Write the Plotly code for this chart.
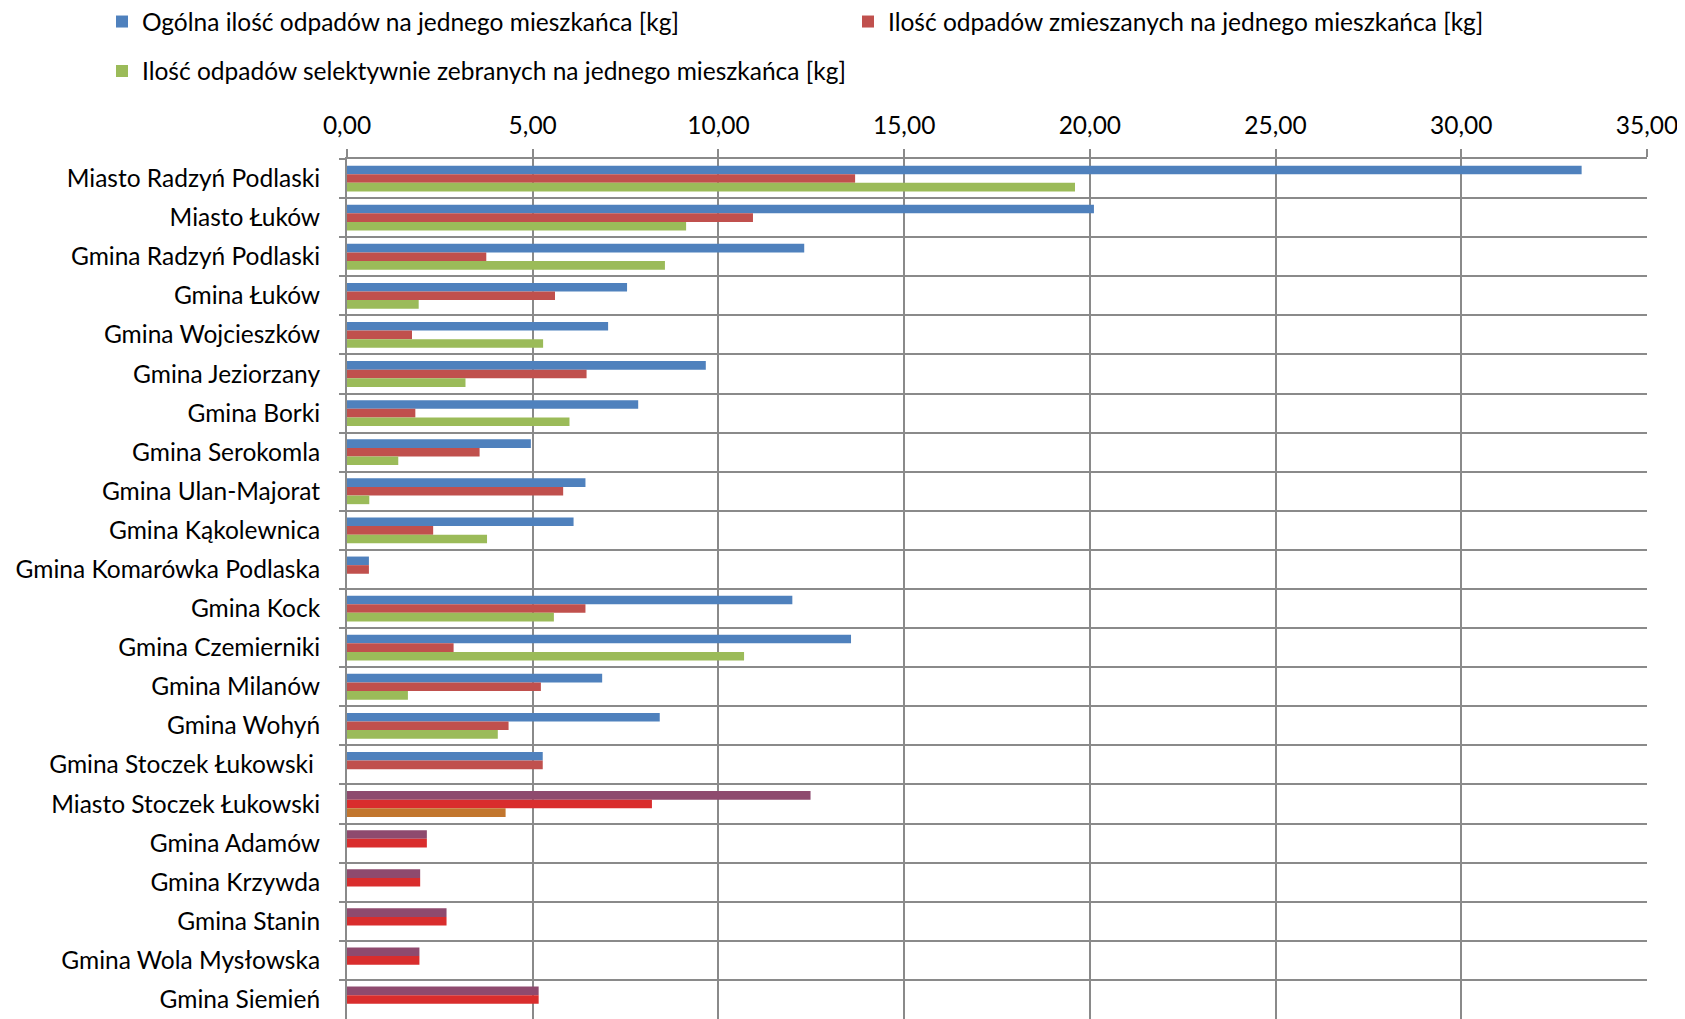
import plotly.graph_objects as go

categories = [
    "Miasto Radzyń Podlaski", "Miasto Łuków", "Gmina Radzyń Podlaski", "Gmina Łuków",
    "Gmina Wojcieszków", "Gmina Jeziorzany", "Gmina Borki", "Gmina Serokomla",
    "Gmina Ulan-Majorat", "Gmina Kąkolewnica", "Gmina Komarówka Podlaska", "Gmina Kock",
    "Gmina Czemierniki", "Gmina Milanów", "Gmina Wohyń", "Gmina Stoczek Łukowski\u00a0",
    "Miasto Stoczek Łukowski", "Gmina Adamów", "Gmina Krzywda", "Gmina Stanin",
    "Gmina Wola Mysłowska", "Gmina Siemień",
]
total_kg = [33.24, 20.11, 12.31, 7.54, 7.03, 9.66, 7.84, 4.95, 6.42, 6.10, 0.59, 11.99,
            13.57, 6.87, 8.42, 5.27, 12.48, 2.15, 1.97, 2.68, 1.95, 5.16]
mixed_kg = [13.68, 10.93, 3.75, 5.60, 1.75, 6.45, 1.84, 3.57, 5.82, 2.32, 0.59, 6.42,
            2.87, 5.22, 4.35, 5.27, 8.21, 2.15, 1.97, 2.68, 1.95, 5.16]
selective_kg = [19.60, 9.13, 8.56, 1.93, 5.28, 3.19, 5.99, 1.38, 0.60, 3.77, None, 5.57,
                10.69, 1.64, 4.06, None, 4.27, None, None, None, None, None]
series_names = [
    "Ogólna ilość odpadów na jednego mieszkańca [kg]",
    "Ilość odpadów zmieszanych na jednego mieszkańca [kg]",
    "Ilość odpadów selektywnie zebranych na jednego mieszkańca [kg]",
]
x_ticks = [0, 5, 10, 15, 20, 25, 30, 35]

base_colors = ["#4F81BD", "#C0504D", "#9BBB59"]
alt_colors = ["#8E4A6E", "#D92D2D", "#C2762E"]
special_from = categories.index("Miasto Stoczek Łukowski")

FONT = "Lato"
FS = 24.5
W, H = 1677, 1011  # page body adds an 8px margin
legend_ids = ["legend", "legend2", "legend3"]

fig = go.Figure()
for i, (name, vals) in enumerate(zip(series_names, [total_kg, mixed_kg, selective_kg])):
    cols = [base_colors[i] if k < special_from else alt_colors[i] for k in range(len(categories))]
    fig.add_trace(go.Bar(
        y=categories, x=vals, name=name, orientation="h",
        marker=dict(color=cols, line=dict(width=0)),
        legend=legend_ids[i],
    ))

def leg(xpx, ypx):
    return dict(orientation="h", xref="container", yref="container",
                x=xpx / W, y=1 - ypx / H, xanchor="left", yanchor="middle",
                font=dict(family=FONT, size=FS, color="#000000"),
                bgcolor="rgba(0,0,0,0)")

grid = "#8A8A8A"
fig.update_layout(
    width=W, height=H,
    margin=dict(l=339, r=38, t=151, b=0),
    paper_bgcolor="white", plot_bgcolor="white",
    separators=",.",
    barmode="group", bargap=0.34, bargroupgap=0,
    font=dict(family=FONT, size=FS, color="#000000"),
    showlegend=True,
    legend=leg(94, 13.6),
    legend2=leg(840, 13.6),
    legend3=leg(94, 63),
    xaxis=dict(side="top", range=[0, 35], tickvals=x_ticks, tickformat=".2f",
               showgrid=True, gridcolor=grid, gridwidth=2,
               ticks="outside", ticklen=8, tickwidth=2, tickcolor=grid,
               ticklabelstandoff=5, zeroline=False,
               showline=True, linecolor=grid, linewidth=2,
               tickfont=dict(family=FONT, size=FS, color="#000000")),
    yaxis=dict(type="category", range=[21.5, -0.5], tickson="boundaries",
               showgrid=True, gridcolor=grid, gridwidth=2,
               ticks="outside", ticklen=6, tickwidth=2, tickcolor=grid,
               ticklabelstandoff=20,
               showline=True, linecolor=grid, linewidth=2,
               tickfont=dict(family=FONT, size=FS, color="#000000")),
)
fig.write_html("out.html")
